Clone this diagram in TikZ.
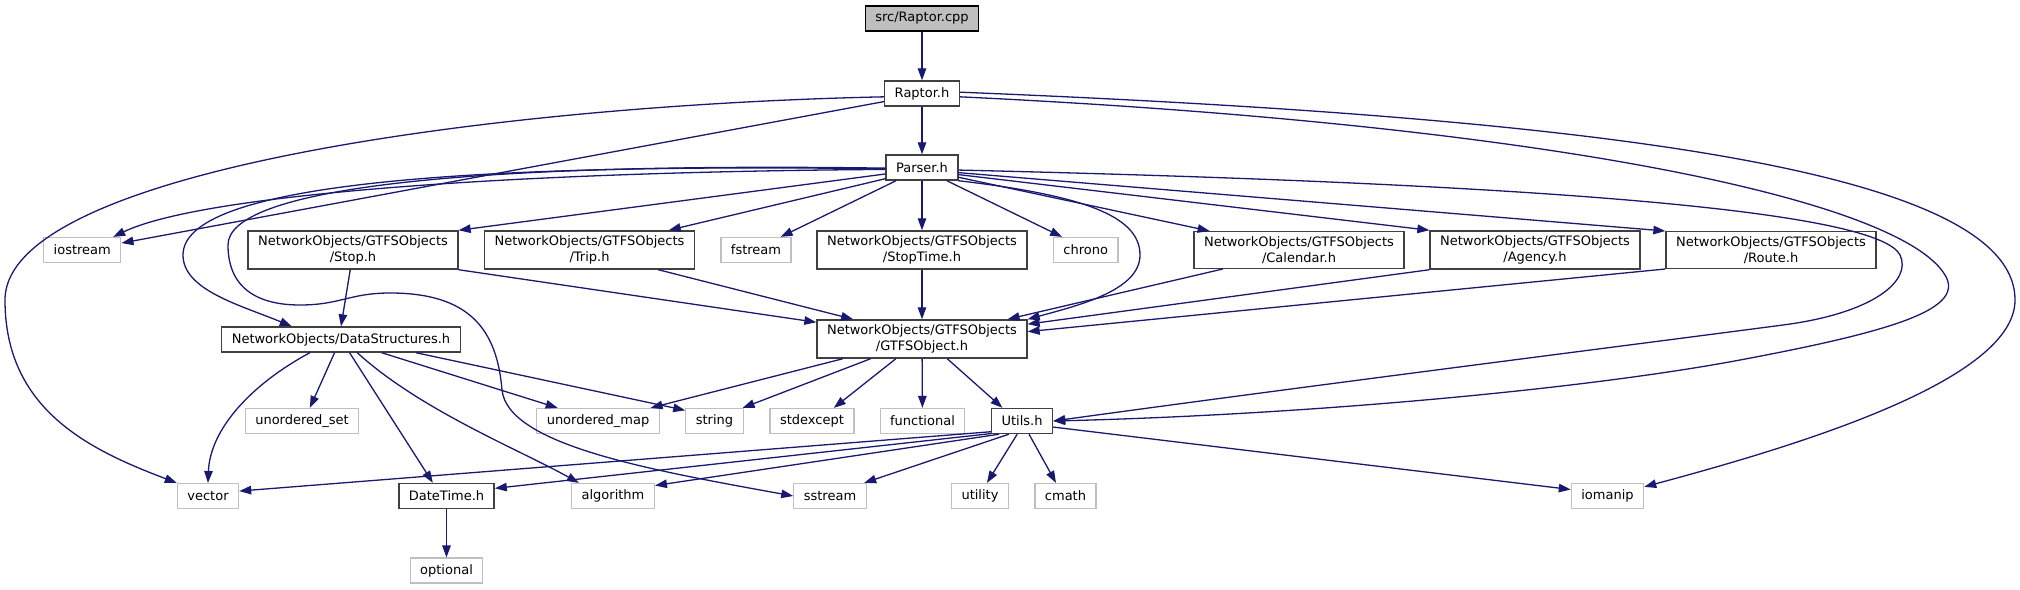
\documentclass[tikz,border=0pt]{standalone}
\usepackage{fontspec}
\setmainfont{DejaVu Sans}
\usetikzlibrary{arrows.meta}
\definecolor{edgeblue}{RGB}{25,25,112}
\definecolor{boxgray}{RGB}{191,191,191}
\definecolor{boxdark}{RGB}{64,64,64}

\begin{document}
\begin{tikzpicture}[
    x=1pt, y=-1pt,
    every node/.style={font=\fontsize{13}{15.5}\selectfont, inner xsep=10pt, inner ysep=5pt, minimum height=25pt, align=center},
    root/.style={draw=black, fill=boxgray, line width=1.2pt},
    hdr/.style={draw=boxdark, fill=white, line width=1.4pt},
    sys/.style={draw=boxgray, fill=white, line width=1.2pt},
    dep/.style={-{Triangle[length=12pt,width=8.5pt]}, edgeblue, line width=1.3pt},
]
\useasboundingbox (0,0) rectangle (2020,589);

% === Các nút (files) ===
\node[root] (raptorcpp) at (922,18.5) {src/Raptor.cpp};
\node[hdr] (raptorh) at (922,93.5) {Raptor.h};
\node[hdr] (parser) at (922,167.5) {Parser.h};

\node[sys] (iostream) at (82.3,250) {iostream};
\node[hdr] (stop) at (353,250) {NetworkObjects/GTFSObjects\\/Stop.h};
\node[hdr] (trip) at (589.5,250) {NetworkObjects/GTFSObjects\\/Trip.h};
\node[sys] (fstream) at (756,250) {fstream};
\node[hdr] (stoptime) at (922,250) {NetworkObjects/GTFSObjects\\/StopTime.h};
\node[sys] (chrono) at (1085.7,250) {chrono};
\node[hdr] (calendar) at (1299,250) {NetworkObjects/GTFSObjects\\/Calendar.h};
\node[hdr] (agency) at (1535,250) {NetworkObjects/GTFSObjects\\/Agency.h};
\node[hdr] (route) at (1771,250) {NetworkObjects/GTFSObjects\\/Route.h};

\node[hdr] (datastruct) at (341,339.5) {NetworkObjects/DataStructures.h};
\node[hdr] (gtfsobject) at (922,339) {NetworkObjects/GTFSObjects\\/GTFSObject.h};

\node[sys] (uset) at (302,421) {unordered\_set};
\node[sys] (umap) at (598,421) {unordered\_map};
\node[sys] (string) at (714.5,421) {string};
\node[sys] (stdexcept) at (812,421) {stdexcept};
\node[sys] (functional) at (922.5,421) {functional};
\node[hdr] (utils) at (1022,421) {Utils.h};

\node[sys] (vector) at (208,496) {vector};
\node[hdr] (datetime) at (446.5,496) {DateTime.h};
\node[sys] (algorithm) at (613,496) {algorithm};
\node[sys] (sstream) at (830,496) {sstream};
\node[sys] (utility) at (980,496) {utility};
\node[sys] (cmath) at (1065.5,496) {cmath};
\node[sys] (iomanip) at (1607.5,496) {iomanip};
\node[sys] (optional) at (446.5,570.5) {optional};

% === src/Raptor.cpp, Raptor.h ===
\draw[dep] (raptorcpp) -- (raptorh);
\draw[dep] (raptorh) -- (parser);
\draw[dep] (raptorh.185) .. controls (500,105) and (5,170) .. (5,300)
    .. controls (5,410) and (90,450) .. (vector.north west);
\draw[dep] (raptorh.192) -- (iostream.10);
\draw[dep] (raptorh.355) .. controls (1550,125) and (1900,200) .. (1945,275)
    .. controls (1965,308) and (1900,330) .. (1740,360)
    .. controls (1580,390) and (1300,415) .. (utils.east);
\draw[dep] (raptorh.2) .. controls (1600,118) and (2015,170) .. (2015,300)
    .. controls (2015,380) and (1800,445) .. (iomanip.14);

% === Parser.h, bên trái ===
\draw[dep] (parser.183) .. controls (500,172) and (200,195) .. (iostream.23);
\draw[dep] (parser.182) .. controls (450,163) and (183,185) .. (183,255)
    .. controls (183,290) and (240,305) .. (datastruct.165);
\draw[dep] (parser.181) .. controls (450,162) and (228,190) .. (228,245)
    .. controls (228,290) and (260,305) .. (300,305)
    .. controls (340,305) and (350,293) .. (390,293)
    .. controls (470,293) and (497,330) .. (502,390)
    .. controls (508,445) and (650,470) .. (sstream.west);
\draw[dep] (parser.190) -- (stop.north east);
\draw[dep] (parser.197) -- (trip.14);
\draw[dep] (parser.207) -- (fstream.28);
\draw[dep] (parser) -- (stoptime);

% === Parser.h, bên phải ===
\draw[dep] (parser.332) -- (chrono.151);
\draw[dep] (parser.340) .. controls (1080,195) and (1140,215) .. (1140,255)
    .. controls (1140,290) and (1080,305) .. (gtfsobject.north east);
\draw[dep] (parser.345) -- (calendar.168);
\draw[dep] (parser.349) -- (agency.north west);
\draw[dep] (parser.352) -- (route.north west);
\draw[dep] (parser.356) .. controls (1600,185) and (1880,215) .. (1900,255)
    .. controls (1912,280) and (1875,313) .. (1783,325)
    .. controls (1600,349) and (1300,387) .. (utils.east);

% === GTFSObjects -> GTFSObject.h ===
\draw[dep] (stop.262) -- (datastruct.north);
\draw[dep] (stop.south east) -- (gtfsobject.171);
\draw[dep] (trip.344) -- (gtfsobject.164);
\draw[dep] (stoptime) -- (gtfsobject);
\draw[dep] (calendar.194) -- (gtfsobject.13);
\draw[dep] (agency.south west) -- (gtfsobject.8);
\draw[dep] (route.south west) -- (gtfsobject.4);

% === DataStructures.h ===
\draw[dep] (datastruct.203) .. controls (250,385) and (210,430) .. (vector.north);
\draw[dep] (datastruct.244) -- (uset.59);
\draw[dep] (datastruct.303) -- (datetime.136);
\draw[dep] (datastruct.321) .. controls (420,410) and (520,450) .. (algorithm.159);
\draw[dep] (datastruct.342) -- (umap.162);
\draw[dep] (datastruct.350) -- (string.160);

% === GTFSObject.h ===
\draw[dep] (gtfsobject.194) -- (umap.14);
\draw[dep] (gtfsobject.201) -- (string.25);
\draw[dep] (gtfsobject.217) -- (stdexcept.31);
\draw[dep] (gtfsobject) -- (functional);
\draw[dep] (gtfsobject.322) -- (utils.146);

% === Utils.h ===
\draw[dep] (utils.199) -- (vector.9);
\draw[dep] (utils.202) -- (datetime.9);
\draw[dep] (utils.210) -- (algorithm.14);
\draw[dep] (utils.225) -- (sstream.21);
\draw[dep] (utils.250) -- (utility.62);
\draw[dep] (utils.298) -- (cmath.126);
\draw[dep] (utils.349) -- (iomanip.170);

% === DateTime.h ===
\draw[dep] (datetime) -- (optional);

\end{tikzpicture}
\end{document}
